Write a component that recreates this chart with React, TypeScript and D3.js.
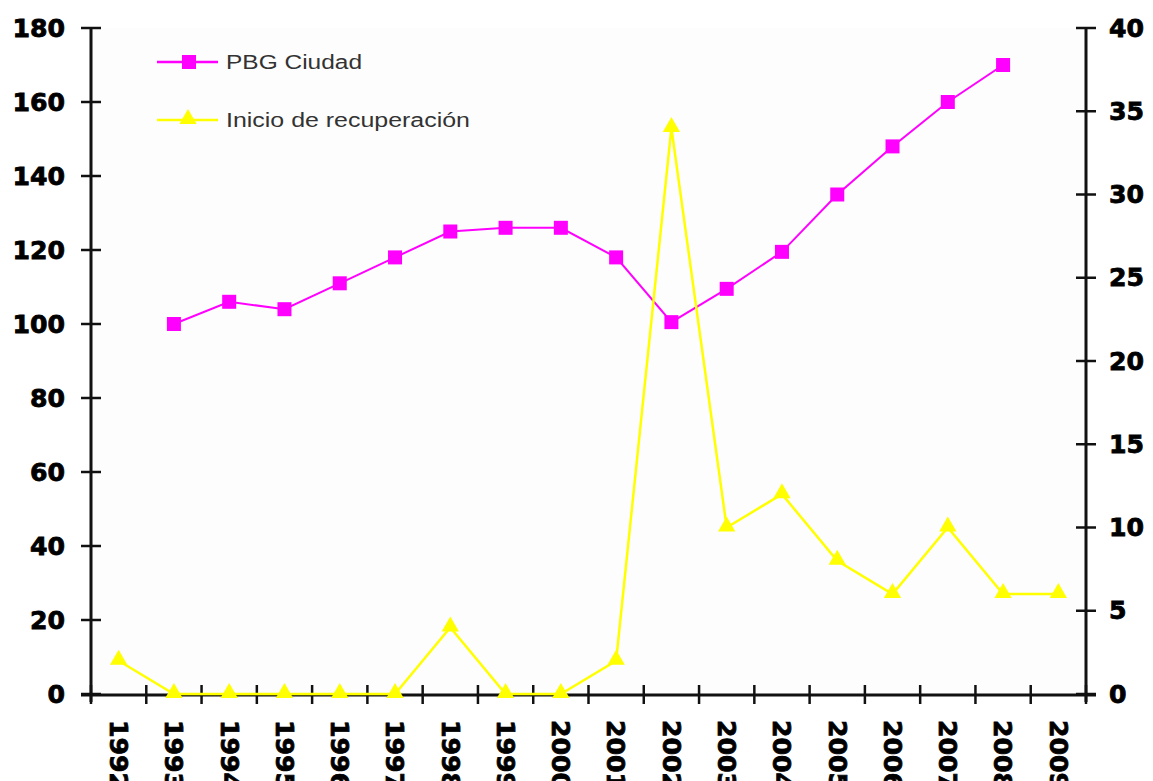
import React, { useEffect, useRef } from 'react';
import * as d3 from 'd3';

const years = ['1992','1993','1994','1995','1996','1997','1998','1999','2000','2001','2002','2003','2004','2005','2006','2007','2008','2009'];
const pbgCiudad: (number | null)[] = [null, 100, 106, 104, 111, 118, 125, 126, 126, 118, 100.5, 109.5, 119.5, 135, 148, 160, 170, null];
const inicioRecuperacion = [2, 0, 0, 0, 0, 0, 4, 0, 0, 2, 34, 10, 12, 8, 6, 10, 6, 6];
const leftTicks = [0, 20, 40, 60, 80, 100, 120, 140, 160, 180];
const rightTicks = [0, 5, 10, 15, 20, 25, 30, 35, 40];
const seriesNames = ['PBG Ciudad', 'Inicio de recuperación'];

export default function App() {
  const ref = useRef<SVGSVGElement>(null);

  useEffect(() => {
    const width = 1153, height = 781;
    const left = 91, right = 1086, top = 28, bottom = 694;
    const svg = d3.select(ref.current);
    svg.selectAll('*').remove();

    const x = d3.scaleBand().domain(years).range([left, right]).padding(0);
    const cx = (d: string) => (x(d) as number) + x.bandwidth() / 2;
    const yL = d3.scaleLinear().domain([0, 180]).range([bottom, top]);
    const yR = d3.scaleLinear().domain([0, 40]).range([bottom, top]);

    svg.append('rect').attr('width', width).attr('height', height).attr('fill', '#fff');
    svg.append('rect').attr('x', left).attr('y', top).attr('width', right - left).attr('height', bottom - top).attr('fill', '#fdfdfd');

    const tickFont = (sel: any) => sel
      .attr('font-family', '"DejaVu Sans", "Liberation Sans", Arial, sans-serif')
      .attr('font-weight', 'bold')
      .attr('font-size', 24)
      .attr('fill', '#000')
      .attr('stroke', '#000')
      .attr('stroke-width', 0.8)
      .attr('lengthAdjust', 'spacingAndGlyphs');

    // axes
    const axes = svg.append('g').attr('stroke', '#111').attr('stroke-width', 3);
    axes.append('line').attr('x1', left).attr('x2', left).attr('y1', top).attr('y2', bottom + 8);
    axes.append('line').attr('x1', right).attr('x2', right).attr('y1', top).attr('y2', bottom + 8);
    axes.append('line').attr('x1', left - 10).attr('x2', right + 10).attr('y1', bottom + 1).attr('y2', bottom + 1);

    leftTicks.forEach(t => {
      axes.append('line').attr('x1', left - 10).attr('x2', left + 10).attr('y1', yL(t)).attr('y2', yL(t)).attr('stroke-width', 2.5);
      const s = String(t);
      svg.append('text').call(tickFont)
        .attr('x', 65).attr('y', yL(t)).attr('dy', '0.36em').attr('text-anchor', 'end')
        .attr('textLength', s.length * 17.5)
        .text(s);
    });

    rightTicks.forEach(t => {
      axes.append('line').attr('x1', right - 10).attr('x2', right + 10).attr('y1', yR(t)).attr('y2', yR(t)).attr('stroke-width', 2.5);
      const s = String(t);
      svg.append('text').call(tickFont)
        .attr('x', 1109).attr('y', yR(t)).attr('dy', '0.36em').attr('text-anchor', 'start')
        .attr('textLength', s.length * 17.5)
        .text(s);
    });

    // x ticks at category boundaries
    const bounds = years.map(d => x(d) as number).concat([right]);
    bounds.forEach(b => {
      axes.append('line').attr('x1', b).attr('x2', b).attr('y1', bottom - 9).attr('y2', bottom + 10).attr('stroke-width', 2.5);
    });

    years.forEach(d => {
      svg.append('text').call(tickFont)
        .attr('transform', `translate(${cx(d)},${bottom + 26}) rotate(90)`)
        .attr('dy', '0.36em')
        .attr('textLength', 4 * 17.5)
        .text(d);
    });

    // PBG Ciudad line
    const pbgPts = years.map((d, i) => ({ d, v: pbgCiudad[i] })).filter(p => p.v !== null) as { d: string; v: number }[];
    const line = d3.line<{ d: string; v: number }>().x(p => cx(p.d)).y(p => yL(p.v));
    svg.append('path').datum(pbgPts).attr('d', line).attr('fill', 'none').attr('stroke', '#ff00ff').attr('stroke-width', 2);
    svg.append('g').selectAll('rect').data(pbgPts).enter().append('rect')
      .attr('x', p => cx(p.d) - 7).attr('y', p => yL(p.v) - 7)
      .attr('width', 14).attr('height', 14).attr('fill', '#ff00ff');

    // Inicio de recuperación line
    const recPts = years.map((d, i) => ({ d, v: inicioRecuperacion[i] }));
    const line2 = d3.line<{ d: string; v: number }>().x(p => cx(p.d)).y(p => yR(p.v));
    svg.append('path').datum(recPts).attr('d', line2).attr('fill', 'none').attr('stroke', '#ffff00').attr('stroke-width', 2.5);
    const tri = d3.symbol().type(d3.symbolTriangle).size(130);
    svg.append('g').selectAll('path').data(recPts).enter().append('path')
      .attr('d', tri as any)
      .attr('transform', p => `translate(${cx(p.d)},${yR(p.v) - 1})`)
      .attr('fill', '#ffff00');

    // legend
    const legend = [
      { name: seriesNames[0], color: '#ff00ff', marker: 'square', y: 62, len: 136 },
      { name: seriesNames[1], color: '#ffff00', marker: 'triangle', y: 120, len: 244 }
    ];
    legend.forEach(l => {
      svg.append('line').attr('x1', 157).attr('x2', 218).attr('y1', l.y).attr('y2', l.y).attr('stroke', l.color).attr('stroke-width', 2.5);
      if (l.marker === 'square') {
        svg.append('rect').attr('x', 182).attr('y', l.y - 7).attr('width', 14).attr('height', 14).attr('fill', l.color);
      } else {
        svg.append('path').attr('d', tri as any).attr('transform', `translate(188,${l.y - 1})`).attr('fill', l.color);
      }
      svg.append('text')
        .attr('x', 226).attr('y', l.y).attr('dy', '0.36em')
        .attr('font-family', '"Liberation Sans", Arial, sans-serif')
        .attr('font-size', 20)
        .attr('fill', '#333')
        .attr('textLength', l.len)
        .attr('lengthAdjust', 'spacingAndGlyphs')
        .text(l.name);
    });
  }, []);

  return (
    <svg
      ref={ref}
      width={1153}
      height={781}
      style={{ position: 'absolute', left: 0, top: 0, display: 'block' }}
    />
  );
}
